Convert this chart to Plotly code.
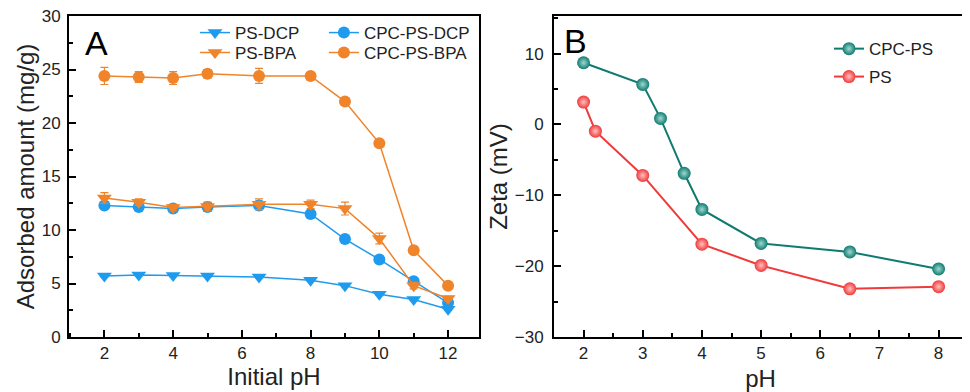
import plotly.graph_objects as go

# ---- Panel A data ----
ph_a = [2, 3, 4, 5, 6.5, 8, 9, 10, 11, 12]
ps_dcp = [5.7, 5.8, 5.75, 5.7, 5.6, 5.3, 4.8, 4.0, 3.5, 2.6]
cpc_ps_dcp = [12.3, 12.15, 12.0, 12.15, 12.3, 11.5, 9.15, 7.25, 5.2, 3.2]
ps_bpa = [13.0, 12.6, 12.1, 12.2, 12.4, 12.4, 12.0, 9.2, 4.8, 3.6]
cpc_ps_bpa = [24.4, 24.3, 24.2, 24.6, 24.4, 24.4, 22.0, 18.1, 8.1, 4.8]
err_ps_dcp = [0.1, 0.1, 0.1, 0.1, 0.1, 0.1, 0.1, 0.1, 0.1, 0.1]
err_cpc_ps_dcp = [0.2, 0.2, 0.2, 0.4, 0.4, 0.2, 0.2, 0.2, 0.2, 0.2]
err_ps_bpa = [0.5, 0.3, 0.3, 0.4, 0.5, 0.4, 0.6, 0.5, 0.3, 0.2]
err_cpc_ps_bpa = [0.8, 0.5, 0.6, 0.4, 0.7, 0.2, 0.3, 0.2, 0.2, 0.2]

# ---- Panel B data ----
ph_cpc_ps = [2, 3, 3.3, 3.7, 4, 5, 6.5, 8]
zeta_cpc_ps = [8.7, 5.65, 0.85, -6.9, -12.0, -16.8, -18.0, -20.4]
ph_ps = [2, 2.2, 3, 4, 5, 6.5, 8]
zeta_ps = [3.15, -0.95, -7.2, -16.9, -19.9, -23.2, -22.9]

BLUE = "#1E9BEF"
ORANGE = "#EF842B"
TEAL = "#0F7B6F"
RED = "#F03A3A"
FONT = "Liberation Sans, Arial, sans-serif"

W, H = 962, 384  # page body has an 8px margin in the viewer

fig = go.Figure()

def add_a(x, y, err, name, color, symbol, legend):
    fig.add_trace(go.Scatter(
        x=x, y=y, name=name, mode="lines+markers", legend=legend,
        line=dict(color=color, width=1.5),
        marker=dict(color=color, symbol=symbol, size=13 if "triangle" in symbol else 12),
        error_y=dict(type="data", array=err, color=color, thickness=1.2, width=4),
        xaxis="x", yaxis="y",
    ))

add_a(ph_a, ps_dcp, err_ps_dcp, "PS-DCP", BLUE, "triangle-down", "legend")
add_a(ph_a, cpc_ps_dcp, err_cpc_ps_dcp, "CPC-PS-DCP", BLUE, "circle", "legend5")
add_a(ph_a, ps_bpa, err_ps_bpa, "PS-BPA", ORANGE, "triangle-down", "legend2")
add_a(ph_a, cpc_ps_bpa, err_cpc_ps_bpa, "CPC-PS-BPA", ORANGE, "circle", "legend6")

def add_b(x, y, name, color, light, legend):
    fig.add_trace(go.Scatter(
        x=x, y=y, name=name, mode="lines+markers", legend=legend,
        line=dict(color=color, width=2),
        marker=dict(color=color, size=13, symbol="circle",
                    gradient=dict(type="radial", color=light),
                    line=dict(width=0)),
        xaxis="x2", yaxis="y2",
    ))

add_b(ph_cpc_ps, zeta_cpc_ps, "CPC-PS", TEAL, "#9FD8CF", "legend3")
add_b(ph_ps, zeta_ps, "PS", RED, "#FFC0C0", "legend4")

TICK = dict(family=FONT, size=17, color="#222")
TITLE = dict(family=FONT, size=24, color="#222")
MINOR = dict(ticks="inside", ticklen=4, tickcolor="black", tickwidth=1.5)

axis_common = dict(
    showline=True, linecolor="black", linewidth=2, mirror=True,
    ticks="inside", ticklen=7, tickwidth=1.5, tickcolor="black",
    showgrid=False, zeroline=False, tickfont=TICK, ticklabeloverflow="allow",
)

LEG = dict(bgcolor="rgba(0,0,0,0)", font=dict(family=FONT, size=17, color="#222"),
           itemwidth=30, orientation="v", xanchor="left", yanchor="top")
COL1, COL2 = 0.1944, 0.3284

fig.update_layout(
    width=W, height=H,
    margin=dict(l=0, r=0, t=8, b=55),
    paper_bgcolor="white", plot_bgcolor="white",
    font=dict(family=FONT, color="#222"),
    showlegend=True,
    xaxis=dict(domain=[61/W, 471/W], range=[0.97, 12.9], tick0=2, dtick=2,
               minor=dict(dtick=1, **MINOR),
               title=dict(text="Initial pH", font=TITLE, standoff=4),
               anchor="y", **axis_common),
    yaxis=dict(domain=[0, 1], range=[0, 30], dtick=5,
               minor=dict(dtick=2.5, **MINOR), ticklabelstandoff=3,
               title=dict(text="Adsorbed amount (mg/g)", font=TITLE, standoff=0),
               anchor="x", **axis_common),
    xaxis2=dict(domain=[546/W, 959/W], range=[1.5, 8.48], tick0=2, dtick=1,
                minor=dict(dtick=0.5, **MINOR),
                title=dict(text="pH", font=TITLE, standoff=10),
                anchor="y2", **axis_common),
    yaxis2=dict(domain=[0, 1], range=[-30, 15.3], tick0=-30, dtick=10,
                minor=dict(dtick=5, **MINOR), ticklabelstandoff=5,
                title=dict(text="Zeta (mV)", font=TITLE, standoff=0),
                anchor="x2", **axis_common),
    legend=dict(x=COL1, y=1.003, **LEG),
    legend2=dict(x=COL1, y=0.941, **LEG),
    legend5=dict(x=COL2, y=1.003, **LEG),
    legend6=dict(x=COL2, y=0.941, **LEG),
    legend3=dict(x=0.8534, y=0.953, **LEG),
    legend4=dict(x=0.8534, y=0.866, **LEG),
    annotations=[
        dict(text="A", x=0.078, y=0.981, xref="paper", yref="paper", xanchor="left", yanchor="top",
             showarrow=False, font=dict(family=FONT, size=34, color="black")),
        dict(text="B", x=0.5759, y=0.9875, xref="paper", yref="paper", xanchor="left", yanchor="top",
             showarrow=False, font=dict(family=FONT, size=34, color="black")),
    ],
)

fig.write_html("out.html")
